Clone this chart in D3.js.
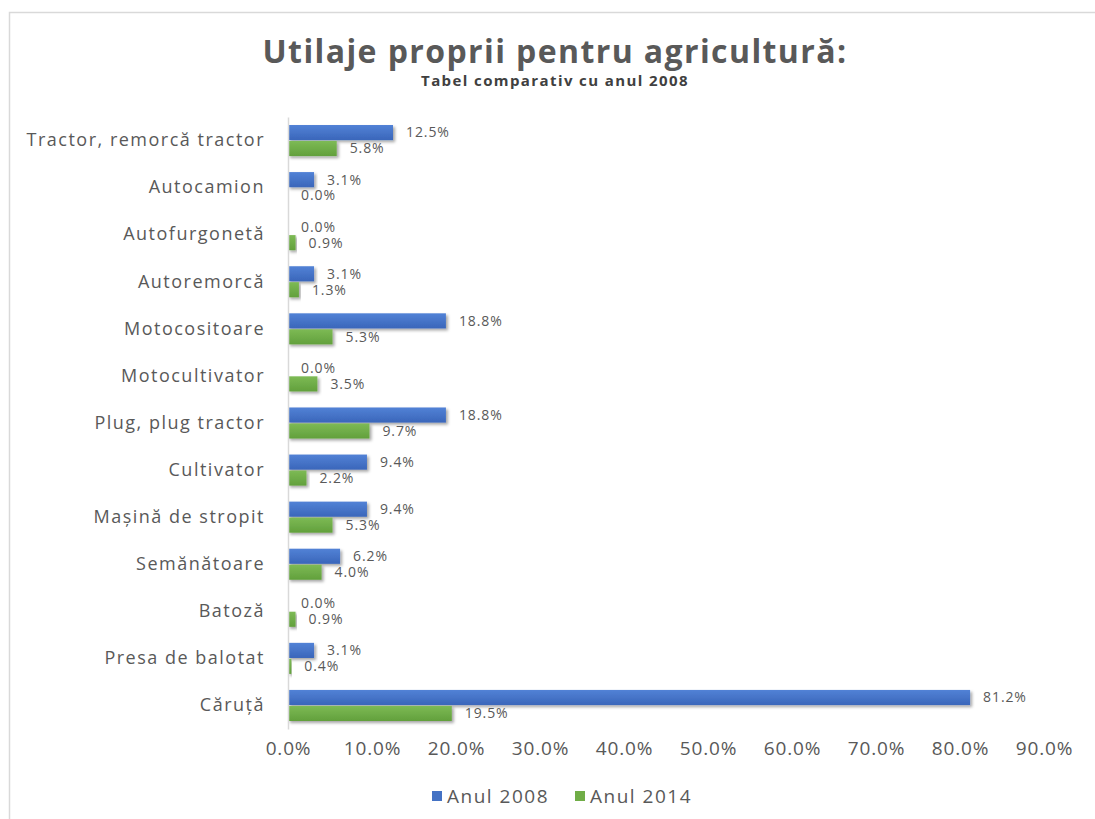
<!DOCTYPE html>
<html>
<head>
<meta charset="utf-8">
<script src="https://cdn.jsdelivr.net/npm/d3@7"></script>
<style>
  body { margin: 0; background: #fff; }
  text { font-family: "Open Sans", sans-serif; }
</style>
</head>
<body>
<div id="container"></div>
<script>
const categories = ["Tractor, remorcă tractor", "Autocamion", "Autofurgonetă", "Autoremorcă",
  "Motocositoare", "Motocultivator", "Plug, plug tractor", "Cultivator", "Mașină de stropit",
  "Semănătoare", "Batoză", "Presa de balotat", "Căruță"];
const anul2008 = [12.5, 3.1, 0.0, 3.1, 18.8, 0.0, 18.8, 9.4, 9.4, 6.2, 0.0, 3.1, 81.2];
const anul2014 = [5.8, 0.0, 0.9, 1.3, 5.3, 3.5, 9.7, 2.2, 5.3, 4.0, 0.9, 0.4, 19.5];
const seriesNames = ["Anul 2008", "Anul 2014"];
const xTicks = [0, 10, 20, 30, 40, 50, 60, 70, 80, 90];

const w = 1095, h = 819;
const padL = 288, padR = 1044, padT = 117, padB = 729;
const colors = ["#4472c4", "#70ad47"];

const svg = d3.select("#container").append("svg")
  .attr("width", w).attr("height", h);

const defs = svg.append("defs");
const grads = [["#5282d6", "#3a66ba"], ["#7dba55", "#62a03c"]];
grads.forEach((g, i) => {
  const lg = defs.append("linearGradient").attr("id", "g" + i)
    .attr("x1", 0).attr("y1", 0).attr("x2", 0).attr("y2", 1);
  lg.append("stop").attr("offset", "0%").attr("stop-color", g[0]);
  lg.append("stop").attr("offset", "100%").attr("stop-color", g[1]);
});
defs.append("filter").attr("id", "shadow")
  .attr("x", "-5%").attr("y", "-30%").attr("width", "120%").attr("height", "180%")
  .append("feDropShadow").attr("dx", 2).attr("dy", 2)
  .attr("stdDeviation", 1.5).attr("flood-color", "#000").attr("flood-opacity", 0.35);

// frame
svg.append("path").attr("d", "M9.5," + h + " V12.5 H" + w)
  .attr("fill", "none").attr("stroke", "#d9d9d9").attr("stroke-width", 1.5);

// titles
svg.append("text").attr("x", 555).attr("y", 63).attr("text-anchor", "middle")
  .attr("font-size", 32).attr("font-weight", "bold").attr("fill", "#595959")
  .attr("letter-spacing", 1.4)
  .text("Utilaje proprii pentru agricultură:");
svg.append("text").attr("x", 555).attr("y", 86).attr("text-anchor", "middle")
  .attr("font-size", 15).attr("font-weight", "bold").attr("fill", "#404040")
  .attr("letter-spacing", 1.4)
  .text("Tabel comparativ cu anul 2008");

const x = d3.scaleLinear().domain([0, 90]).range([padL, padR]);
const y = d3.scaleBand().domain(categories).range([padT, padB])
  .paddingInner(0.34).paddingOuter(0.17);
const y1 = d3.scaleBand().domain([0, 1]).range([0, y.bandwidth()]).paddingInner(0.05);

const data = categories.map((c, i) => ({cat: c, vals: [anul2008[i], anul2014[i]]}));

const groups = svg.selectAll("g.row").data(data).enter().append("g")
  .attr("class", "row")
  .attr("transform", d => "translate(0," + y(d.cat) + ")");

groups.selectAll("rect").data(d => d.vals.map((v, k) => ({v, k})))
  .enter().append("rect")
  .attr("x", x(0))
  .attr("y", d => y1(d.k))
  .attr("width", d => x(d.v) - x(0))
  .attr("height", y1.bandwidth())
  .attr("fill", d => "url(#g" + d.k + ")")
  .attr("filter", "url(#shadow)");

groups.selectAll("text.lbl").data(d => d.vals.map((v, k) => ({v, k})))
  .enter().append("text").attr("class", "lbl")
  .attr("x", d => x(d.v) + 13)
  .attr("y", d => y1(d.k) + y1.bandwidth() / 2)
  .attr("dy", "0.35em")
  .attr("font-size", 14).attr("fill", "#595959").attr("letter-spacing", 0.9)
  .text(d => d.v.toFixed(1) + "%");

// y axis
const yAxis = d3.axisLeft(y).tickSize(0).tickPadding(23);
const gy = svg.append("g").attr("transform", "translate(" + padL + ",0)").call(yAxis);
gy.select(".domain").attr("stroke", "#d9d9d9").attr("stroke-width", 1.5);
gy.selectAll("text").attr("font-size", 18).attr("fill", "#595959")
  .attr("font-family", "'Open Sans', sans-serif").attr("letter-spacing", 1.5);

// x axis (labels only)
const xAxis = d3.axisBottom(x).tickValues(xTicks).tickSize(0).tickPadding(13)
  .tickFormat(d => d.toFixed(1) + "%");
const gx = svg.append("g").attr("transform", "translate(0," + padB + ")").call(xAxis);
gx.select(".domain").remove();
gx.selectAll("text").attr("font-size", 19).attr("fill", "#595959")
  .attr("font-family", "'Open Sans', sans-serif").attr("letter-spacing", 0.8);

// legend
const legX = [432, 575];
seriesNames.forEach((s, i) => {
  svg.append("rect").attr("x", legX[i]).attr("y", 791).attr("width", 10).attr("height", 10)
    .attr("fill", colors[i]);
  svg.append("text").attr("x", legX[i] + 15).attr("y", 796).attr("dy", "0.35em")
    .attr("font-size", 19).attr("fill", "#595959").attr("letter-spacing", 1.5).text(s);
});
</script>
</body>
</html>
